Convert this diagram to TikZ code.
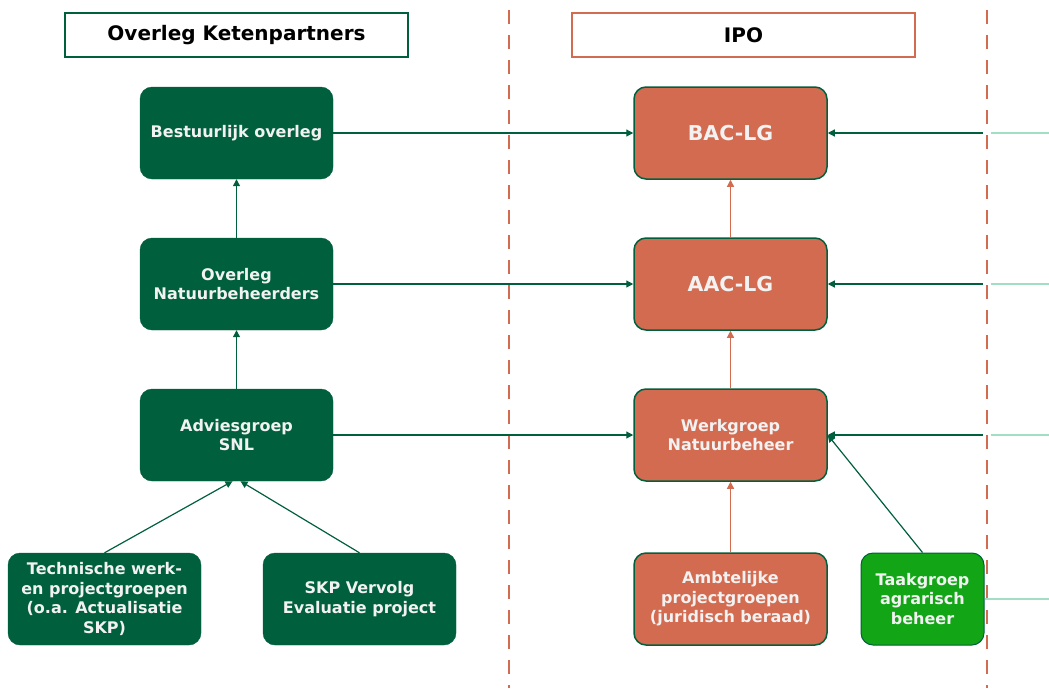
\documentclass[tikz,border=0pt]{standalone}
\usepackage{fontspec}
\setmainfont{DejaVu Sans}
\usetikzlibrary{arrows.meta}
\definecolor{dkgreen}{HTML}{005F3C}
\definecolor{orng}{HTML}{D36B51}
\definecolor{brgreen}{HTML}{12A516}
\definecolor{ltgreen}{HTML}{A3DDC3}
\definecolor{offwhite}{HTML}{F2F2F2}
\tikzset{
  box/.style={rounded corners=12pt, minimum width=193pt, minimum height=92pt, align=center, text=offwhite, font=\bfseries\fontsize{16}{19.5}\selectfont, inner sep=2pt},
  gbox/.style={box, fill=dkgreen, draw=dkgreen},
  obox/.style={box, fill=orng, draw=dkgreen, line width=1.5pt},
  tbox/.style={box, fill=brgreen, draw=dkgreen, line width=1pt, minimum width=123pt},
  hdr/.style={minimum width=343pt, minimum height=44pt, line width=1.5pt, fill=white, font=\bfseries\fontsize{20}{24}\selectfont, text=black},
  big/.style={font=\bfseries\fontsize{20.5}{24}\selectfont},
  garr/.style={draw=dkgreen, line width=1.2pt, -{Triangle[length=7pt,width=7pt]}},
  oarr/.style={draw=orng, line width=1.2pt, -{Triangle[length=7pt,width=7pt]}},
  ltline/.style={draw=ltgreen, line width=1.5pt},
  divider/.style={draw=orng, line width=1.5pt, dash pattern=on 14pt off 11pt}
}
\begin{document}
\begin{tikzpicture}[x=1pt,y=-1pt]
\useasboundingbox (0,0) rectangle (1049,688);
% dividers
\coordinate (d1t) at (509,10); \coordinate (d1b) at (509,688);
\coordinate (d2t) at (987,10); \coordinate (d2b) at (987,688);
\draw[divider] (d1t) -- (d1b);
\draw[divider] (d2t) -- (d2b);
% headers
\node[hdr, draw=dkgreen] (h1) at (236.5,35) {Overleg Ketenpartners};
\node[hdr, draw=orng] (h2) at (743.5,35) {IPO};
% left column
\node[gbox] (best) at (236.5,133) {Bestuurlijk overleg};
\node[gbox] (onb) at (236.5,284) {Overleg\\Natuurbeheerders};
\node[gbox] (adv) at (236.5,435) {Adviesgroep\\SNL};
\node[gbox] (tech) at (104.5,599) {Technische werk-\\en projectgroepen\\(o.a. Actualisatie\\SKP)};
\node[gbox] (skp) at (359.5,599) {SKP Vervolg\\Evaluatie project};
% middle column
\node[obox, big] (bac) at (730.5,133) {BAC-LG};
\node[obox, big] (aac) at (730.5,284) {AAC-LG};
\node[obox] (wnb) at (730.5,435) {Werkgroep\\Natuurbeheer};
\node[obox] (amb) at (730.5,599) {Ambtelijke\\projectgroepen\\(juridisch beraad)};
\node[tbox] (taak) at (922.5,599) {Taakgroep\\agrarisch\\beheer};
% vertical arrows
\draw[garr] (onb) -- (best);
\draw[garr] (adv) -- (onb);
\draw[garr] (tech.north) -- ([xshift=-4pt]adv.south);
\draw[garr] (skp.north) -- ([xshift=4pt]adv.south);
\draw[oarr] (aac) -- (bac);
\draw[oarr] (wnb) -- (aac);
\draw[oarr] (amb) -- (wnb);
% horizontal arrows
\draw[garr] (best) -- (bac);
\draw[garr] (onb.east) -- (aac.west);
\draw[garr] (adv.east) -- (wnb.west);
\draw[garr] (taak.north) -- (wnb.east);
% from the right
\coordinate (r1) at (983,133); \coordinate (e1) at (1049,133);
\coordinate (r2) at (983,284); \coordinate (e2) at (1049,284);
\coordinate (r3) at (983,435); \coordinate (e3) at (1049,435);
\coordinate (e4) at (1049,599);
\draw[garr] (r1) -- (bac.east);
\draw[garr] (r2) -- (aac.east);
\draw[garr] (r3) -- (wnb.east);
\draw[ltline] ([xshift=8pt]r1) -- (e1);
\draw[ltline] ([xshift=8pt]r2) -- (e2);
\draw[ltline] ([xshift=8pt]r3) -- (e3);
\draw[ltline] (taak.east) -- (e4);
\end{tikzpicture}
\end{document}
